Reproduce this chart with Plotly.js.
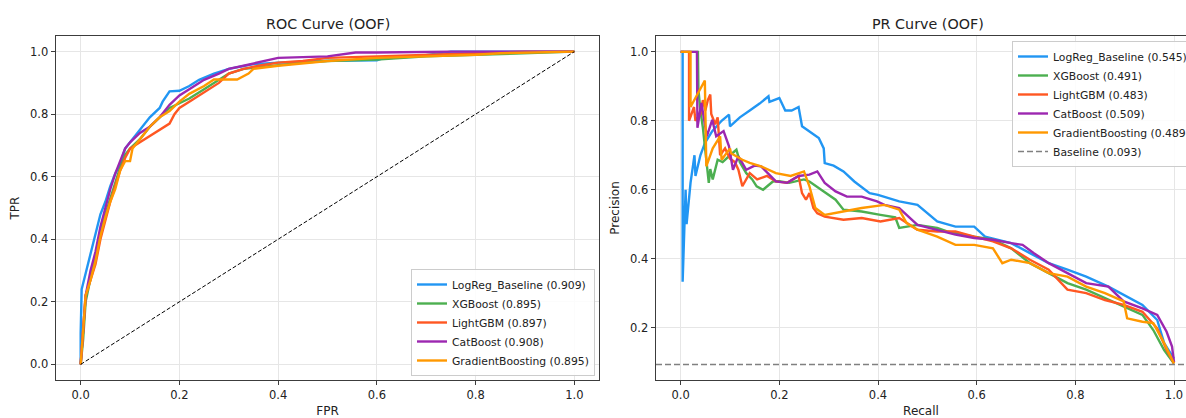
<!DOCTYPE html>
<html>
<head>
<meta charset="utf-8">
<script src="https://cdn.plot.ly/plotly-3.0.1.min.js"></script>
<style>html,body{margin:0;padding:0;background:#fff;}#chart{width:1186px;height:418px;}</style>
</head>
<body>
<div id="chart"></div>
<script>
// ---------------- ROC data (FPR, TPR) ----------------
const rocLogRegFpr = [0,0,0.002,0.01,0.02,0.03,0.04,0.05,0.06,0.07,0.08,0.09,0.1,0.12,0.14,0.16,0.166,0.18,0.2,0.22,0.24,0.27,0.3,0.35,0.4,0.5,0.6,0.61,0.68,0.75,0.85,1];
const rocLogRegTpr = [0,0.1,0.24,0.29,0.35,0.42,0.48,0.52,0.57,0.61,0.64,0.69,0.71,0.75,0.79,0.82,0.84,0.873,0.875,0.89,0.91,0.93,0.945,0.96,0.965,0.971,0.972,0.978,0.985,1.0,1.0,1.0];

const rocXGBFpr = [0,0.005,0.01,0.02,0.03,0.04,0.05,0.06,0.07,0.08,0.09,0.1,0.12,0.14,0.16,0.18,0.2,0.22,0.25,0.28,0.3,0.33,0.36,0.4,0.45,0.5,0.6,0.7,0.8,0.945,1];
const rocXGBTpr = [0,0.08,0.2,0.28,0.35,0.42,0.48,0.53,0.58,0.63,0.67,0.69,0.72,0.76,0.79,0.82,0.835,0.85,0.88,0.91,0.93,0.945,0.95,0.955,0.965,0.97,0.975,0.985,0.99,0.995,1.0];

const rocLGBFpr = [0,0.005,0.01,0.02,0.03,0.04,0.05,0.06,0.07,0.08,0.09,0.1,0.12,0.14,0.16,0.18,0.19,0.2,0.22,0.25,0.28,0.3,0.33,0.36,0.4,0.45,0.5,0.6,0.7,0.8,0.9,1];
const rocLGBTpr = [0,0.1,0.22,0.27,0.32,0.4,0.46,0.52,0.57,0.62,0.66,0.69,0.71,0.73,0.75,0.77,0.8,0.82,0.84,0.87,0.9,0.93,0.945,0.955,0.965,0.97,0.98,0.985,0.99,0.995,1.0,1.0];

const rocCatFpr = [0,0.005,0.01,0.02,0.03,0.04,0.05,0.06,0.07,0.08,0.09,0.1,0.12,0.14,0.16,0.18,0.2,0.22,0.25,0.28,0.3,0.33,0.37,0.4,0.5,0.557,0.6,0.75,0.95,1];
const rocCatTpr = [0,0.1,0.22,0.3,0.36,0.44,0.5,0.56,0.61,0.65,0.69,0.71,0.74,0.76,0.79,0.83,0.86,0.88,0.91,0.93,0.945,0.955,0.97,0.98,0.985,0.997,0.997,1.0,1.0,1.0];

const rocGBFpr = [0,0.005,0.01,0.02,0.03,0.04,0.05,0.06,0.07,0.08,0.09,0.1,0.105,0.12,0.14,0.16,0.18,0.2,0.22,0.25,0.27,0.317,0.34,0.35,0.4,0.5,0.6,0.7,0.8,0.85,1];
const rocGBTpr = [0,0.1,0.22,0.27,0.33,0.41,0.47,0.52,0.56,0.62,0.65,0.65,0.69,0.72,0.76,0.79,0.81,0.84,0.865,0.89,0.911,0.911,0.93,0.945,0.955,0.97,0.98,0.985,0.99,0.995,1.0];

const rocChanceX = [0, 1];
const rocChanceY = [0, 1];

// ---------------- PR data (Recall, Precision) ----------------
const prLogRegRecall = [0.0,0.004,0.004,0.008,0.01,0.012,0.016,0.02,0.025,0.028,0.03,0.04,0.049,0.064,0.083,0.098,0.1,0.12,0.14,0.16,0.178,0.18,0.2,0.212,0.225,0.239,0.246,0.261,0.27,0.28,0.29,0.292,0.31,0.33,0.352,0.383,0.4,0.443,0.48,0.52,0.557,0.595,0.617,0.67,0.708,0.746,0.784,0.822,0.867,0.898,0.936,0.966,0.98,1.0];
const prLogRegPrecision = [1.0,1.0,0.333,0.5,0.6,0.5,0.57,0.62,0.67,0.7,0.64,0.7,0.735,0.77,0.8,0.818,0.784,0.81,0.83,0.85,0.871,0.855,0.866,0.83,0.83,0.84,0.784,0.77,0.76,0.75,0.72,0.677,0.67,0.653,0.624,0.59,0.585,0.566,0.556,0.508,0.493,0.493,0.464,0.445,0.416,0.387,0.368,0.348,0.319,0.295,0.266,0.222,0.155,0.11];

const prXGBRecall = [0.0,0.035,0.036,0.04,0.045,0.05,0.057,0.06,0.065,0.075,0.085,0.1,0.113,0.12,0.133,0.145,0.154,0.167,0.187,0.2,0.22,0.25,0.261,0.29,0.314,0.33,0.367,0.405,0.435,0.443,0.48,0.52,0.54,0.595,0.633,0.67,0.708,0.746,0.784,0.822,0.86,0.898,0.936,0.958,0.98,1.0];
const prXGBPrecision = [1.0,1.0,0.89,0.83,0.78,0.72,0.62,0.66,0.63,0.687,0.68,0.7,0.716,0.68,0.648,0.63,0.61,0.6,0.624,0.625,0.62,0.63,0.624,0.595,0.571,0.542,0.537,0.527,0.52,0.489,0.498,0.489,0.479,0.464,0.455,0.43,0.387,0.358,0.329,0.31,0.285,0.261,0.237,0.193,0.135,0.096];

const prLGBRecall = [0.0,0.017,0.017,0.027,0.03,0.04,0.045,0.05,0.055,0.06,0.062,0.07,0.075,0.08,0.09,0.1,0.11,0.117,0.125,0.14,0.155,0.175,0.193,0.216,0.239,0.246,0.254,0.261,0.269,0.277,0.292,0.33,0.367,0.405,0.443,0.48,0.52,0.557,0.595,0.633,0.67,0.708,0.746,0.784,0.822,0.86,0.898,0.936,0.966,0.985,1.0];
const prLGBPrecision = [1.0,1.0,0.8,0.84,0.8,0.82,0.86,0.83,0.86,0.876,0.82,0.79,0.81,0.7,0.72,0.69,0.68,0.658,0.61,0.648,0.63,0.64,0.624,0.62,0.64,0.59,0.571,0.59,0.547,0.532,0.522,0.513,0.518,0.508,0.518,0.484,0.479,0.479,0.464,0.45,0.43,0.397,0.368,0.31,0.3,0.28,0.266,0.246,0.198,0.135,0.096];

const prCatRecall = [0.0,0.033,0.034,0.042,0.053,0.064,0.072,0.087,0.098,0.106,0.117,0.133,0.15,0.163,0.193,0.216,0.239,0.261,0.277,0.292,0.314,0.337,0.367,0.398,0.413,0.443,0.48,0.52,0.557,0.595,0.633,0.67,0.693,0.716,0.746,0.784,0.822,0.867,0.898,0.936,0.966,0.985,0.996,1.0];
const prCatPrecision = [1.0,1.0,0.78,0.852,0.755,0.803,0.755,0.77,0.726,0.658,0.697,0.658,0.67,0.668,0.624,0.62,0.64,0.644,0.653,0.62,0.595,0.58,0.58,0.566,0.556,0.547,0.498,0.484,0.47,0.46,0.455,0.445,0.44,0.416,0.387,0.358,0.329,0.319,0.276,0.256,0.237,0.188,0.145,0.1];

const prGBRecall = [0.0,0.02,0.02,0.049,0.052,0.065,0.08,0.083,0.1,0.102,0.125,0.14,0.163,0.193,0.223,0.25,0.261,0.273,0.292,0.33,0.367,0.413,0.443,0.458,0.48,0.52,0.557,0.595,0.633,0.652,0.67,0.708,0.746,0.784,0.822,0.86,0.898,0.905,0.936,0.958,0.98,1.0];
const prGBPrecision = [1.0,1.0,0.84,0.917,0.668,0.72,0.755,0.687,0.72,0.706,0.687,0.678,0.668,0.648,0.64,0.653,0.61,0.547,0.527,0.537,0.547,0.556,0.542,0.503,0.484,0.464,0.44,0.44,0.43,0.387,0.397,0.387,0.358,0.348,0.319,0.3,0.276,0.227,0.217,0.213,0.155,0.096];

const prBaselineValue = 0.093;
const prAxisLimits = [-0.05, 1.05];

const modelNames = ['LogReg_Baseline','XGBoost','LightGBM','CatBoost','GradientBoosting'];
const rocAuc = [0.909, 0.895, 0.897, 0.908, 0.895];
const prAp = [0.545, 0.491, 0.483, 0.509, 0.489];
const modelColors = ['#2196F3','#4CAF50','#FF5722','#9C27B0','#FF9800'];
const tickVals = [0, 0.2, 0.4, 0.6, 0.8, 1.0];

const rocX = [rocLogRegFpr, rocXGBFpr, rocLGBFpr, rocCatFpr, rocGBFpr];
const rocY = [rocLogRegTpr, rocXGBTpr, rocLGBTpr, rocCatTpr, rocGBTpr];
const prX = [prLogRegRecall, prXGBRecall, prLGBRecall, prCatRecall, prGBRecall];
const prY = [prLogRegPrecision, prXGBPrecision, prLGBPrecision, prCatPrecision, prGBPrecision];

const FONT = 'DejaVu Sans, sans-serif';
const traces = [];
modelNames.forEach((n, i) => {
  traces.push({x: rocX[i], y: rocY[i], type: 'scatter', mode: 'lines', name: n + ' (' + rocAuc[i].toFixed(3) + ')',
    line: {color: modelColors[i], width: 2.4}, xaxis: 'x', yaxis: 'y', legend: 'legend'});
});
traces.push({x: rocChanceX, y: rocChanceY, type: 'scatter', mode: 'lines', showlegend: false,
  line: {color: '#000', width: 1, dash: '4px,2px'}, xaxis: 'x', yaxis: 'y'});
modelNames.forEach((n, i) => {
  traces.push({x: prX[i], y: prY[i], type: 'scatter', mode: 'lines', name: n + ' (' + prAp[i].toFixed(3) + ')',
    line: {color: modelColors[i], width: 2.4}, xaxis: 'x2', yaxis: 'y2', legend: 'legend2'});
});
traces.push({x: prAxisLimits, y: [prBaselineValue, prBaselineValue], type: 'scatter', mode: 'lines',
  name: 'Baseline (' + prBaselineValue.toFixed(3) + ')',
  line: {color: '#808080', width: 1.6, dash: '6px,3px'}, xaxis: 'x2', yaxis: 'y2', legend: 'legend2'});

const W = 1186, H = 418, ML = 56, MR = 0, MT = 36, MB = 38;
const PW = W - ML - MR, PH = H - MT - MB;
const px = v => (v - ML) / PW;
const py = v => (H - MB - v) / PH;

const axisCommon = {
  showgrid: true, gridcolor: '#e6e6e6', gridwidth: 1, zeroline: false,
  showline: true, linecolor: '#3c3c3c', linewidth: 1.4,
  ticks: 'outside', ticklen: 4, tickwidth: 1, tickcolor: '#3c3c3c',
  tickvals: tickVals, tickformat: '.1f',
  tickfont: {family: FONT, size: 11.5, color: '#222'}, automargin: false
};

const layout = {
  width: W, height: H,
  margin: {l: ML, r: MR, t: MT, b: MB, autoexpand: false},
  paper_bgcolor: '#fff', plot_bgcolor: '#fff',
  font: {family: FONT, color: '#222'},
  xaxis: Object.assign({}, axisCommon, {domain: [0, px(599)], range: [-0.05, 1.05], anchor: 'y', mirror: true,
    title: {text: 'FPR', font: {family: FONT, size: 12, color: '#222'}, standoff: 7}}),
  yaxis: Object.assign({}, axisCommon, {domain: [0, 1], range: [-0.05, 1.05], anchor: 'x', mirror: true,
    title: {text: 'TPR', font: {family: FONT, size: 12, color: '#222'}, standoff: 8}}),
  xaxis2: Object.assign({}, axisCommon, {domain: [px(656), 1], range: [-0.05, 1.0243], anchor: 'y2', mirror: true,
    title: {text: 'Recall', font: {family: FONT, size: 12, color: '#222'}, standoff: 7}}),
  yaxis2: Object.assign({}, axisCommon, {domain: [0, 1], range: [0.048, 1.046], anchor: 'x2', mirror: false,
    title: {text: 'Precision', font: {family: FONT, size: 12, color: '#222'}, standoff: 8}}),
  legend: {x: px(595), xanchor: 'right', y: py(376), yanchor: 'bottom', xref: 'paper', yref: 'paper',
    bgcolor: 'rgba(255,255,255,0.85)', bordercolor: '#cccccc', borderwidth: 1,
    font: {family: FONT, size: 10.8, color: '#222'}, itemwidth: 30, tracegroupgap: 0},
  legend2: {x: px(1012), xanchor: 'left', y: py(41), yanchor: 'top', xref: 'paper', yref: 'paper',
    bgcolor: 'rgba(255,255,255,0.85)', bordercolor: '#cccccc', borderwidth: 1,
    font: {family: FONT, size: 10.8, color: '#222'}, itemwidth: 30, tracegroupgap: 0},
  annotations: [
    {text: 'ROC Curve (OOF)', xref: 'paper', yref: 'paper', x: px(327.5), y: py(24), xanchor: 'center', yanchor: 'middle',
      showarrow: false, font: {family: FONT, size: 14.3, color: '#222'}},
    {text: 'PR Curve (OOF)', xref: 'paper', yref: 'paper', x: px(927.5), y: py(24), xanchor: 'center', yanchor: 'middle',
      showarrow: false, font: {family: FONT, size: 14.3, color: '#222'}}
  ]
};

Plotly.newPlot('chart', traces, layout, {displayModeBar: false, staticPlot: true});
</script>
</body>
</html>
